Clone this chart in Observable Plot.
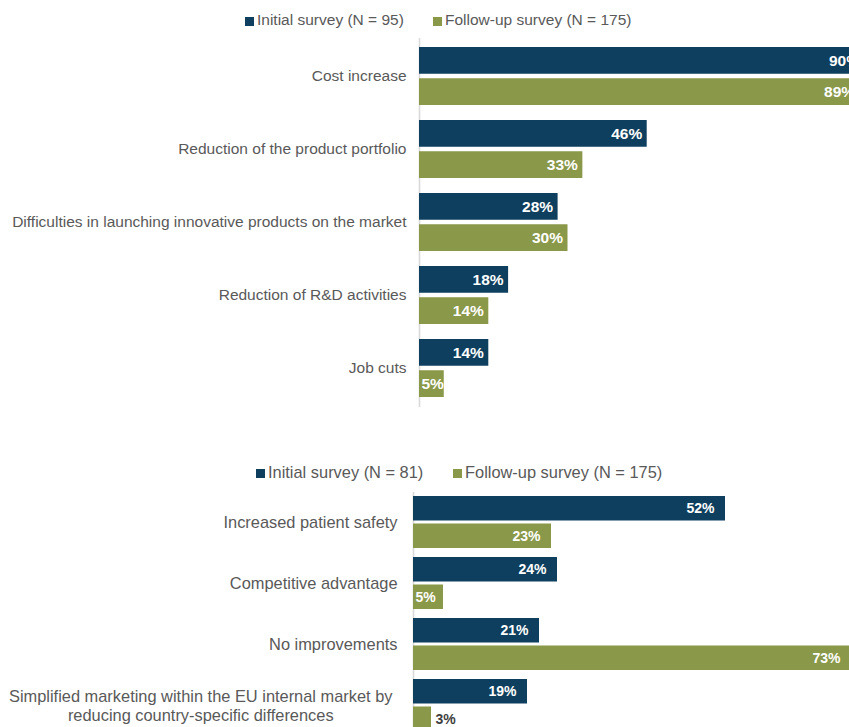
<!DOCTYPE html>
<html><head><meta charset="utf-8">
<script src="https://cdn.jsdelivr.net/npm/d3@7"></script>
<script src="https://cdn.jsdelivr.net/npm/@observablehq/plot@0.6"></script>
<style>
html,body{margin:0;padding:0;background:#fff;overflow:hidden;width:849px;height:727px;}
#root{position:relative;width:849px;height:727px;overflow:hidden;font-family:"Liberation Sans",Arial,sans-serif;}
.item{position:absolute;display:flex;align-items:center;color:#595959;white-space:nowrap;height:22px;}
.sw{display:inline-block;width:9px;height:9px;margin-right:3px;position:relative;top:1px;}
.panel{position:absolute;left:0;}
.panel svg{overflow:hidden;}
</style></head><body><div id="root"></div>
<script>
// ---- data ----
const impactCategories = ["Cost increase","Reduction of the product portfolio","Difficulties in launching innovative products on the market","Reduction of R&D activities","Job cuts"];
const impactInitial = [90, 46, 28, 18, 14];
const impactFollowup = [89, 33, 30, 14, 5];
const impactSeries = ["Initial survey (N = 95)", "Follow-up survey (N = 175)"];

const benefitCategories = ["Increased patient safety","Competitive advantage","No improvements","Simplified marketing within the EU internal market by\nreducing country-specific differences"];
const benefitInitial = [52, 24, 21, 19];
const benefitFollowup = [23, 5, 73, 3];
const benefitSeries = ["Initial survey (N = 81)", "Follow-up survey (N = 175)"];

const seriesColors = ["#0f3f5e", "#8a9849"];
const FONT = '"Liberation Sans", Arial, sans-serif';

const root = document.getElementById("root");

function legend(series, lefts, centerY, fontSize) {
  series.forEach((s, i) => {
    const d = document.createElement("div");
    d.className = "item";
    d.style.left = lefts[i] + "px";
    d.style.top = (centerY - 11) + "px";
    d.style.fontSize = fontSize + "px";
    d.innerHTML = `<span class="sw" style="background:${seriesColors[i]}"></span><span></span>`;
    d.lastChild.textContent = s;
    root.appendChild(d);
  });
}

function measure(text, size) {
  const c = document.createElement("canvas").getContext("2d");
  c.font = `${size}px ${FONT}`;
  return c.measureText(text).width;
}

function panel(o) {
  const rows = o.cats.map((c, i) => ({c, a: o.init[i], b: o.follow[i]}));
  const n = rows.length;
  const bw = o.step * (1 - o.pad);
  const inset = bw / 2 + o.gap / 2;
  const dyLab = (bw / 2 + o.gap / 2) / 2;
  const zero = () => 0;
  const marks = [Plot.ruleX([0], {stroke: "#d9d9d9", strokeWidth: 1.6})];
  const series = [["a", {insetBottom: inset}, -dyLab], ["b", {insetTop: inset}, dyLab]];
  series.forEach(([k, ins, dy], i) => {
    marks.push(Plot.barX(rows, {x1: zero, x2: k, y: "c", fill: seriesColors[i], ...ins}));
  });
  series.forEach(([k, ins, dy], i) => {
    const lab = d => d[k] + "%";
    marks.push(Plot.text(rows.filter(d => d[k] >= 10), {x: k, y: "c", text: lab, textAnchor: "end", dx: -o.labelPad, dy, fill: "white", fontWeight: "bold", fontSize: o.labelSize}));
    marks.push(Plot.text(rows.filter(d => d[k] >= 5 && d[k] < 10), {x: zero, y: "c", text: lab, textAnchor: "start", dx: 2, dy, fill: "white", fontWeight: "bold", fontSize: o.labelSize}));
    marks.push(Plot.text(rows.filter(d => d[k] < 5), {x: k, y: "c", text: lab, textAnchor: "start", dx: 4, dy, fill: "#404040", fontWeight: "bold", fontSize: o.labelSize}));
  });
  marks.push(Plot.text(rows.filter(d => !d.c.includes("\n")), {x: zero, y: "c", text: "c", textAnchor: "end", dx: -o.catPad, fill: "#595959", fontSize: o.catSize}));
  rows.filter(d => d.c.includes("\n")).forEach(d => {
    const w = Math.max(...d.c.split("\n").map(l => measure(l, o.catSize)));
    marks.push(Plot.text([d], {x: zero, y: "c", text: "c", textAnchor: "middle", lineHeight: 1.16, dx: -(o.catPad + 5 + w / 2), fill: "#595959", fontSize: o.catSize}));
  });
  const svg = Plot.plot({
    width: 849,
    height: Math.ceil(n * o.step),
    margin: 0,
    style: {fontFamily: FONT, background: "transparent", overflow: "hidden"},
    x: {domain: [0, 100], range: [o.left, o.left + 100 * o.ppp], axis: null},
    y: {domain: o.cats, range: [0, n * o.step], paddingInner: o.pad, paddingOuter: o.pad / 2, axis: null},
    marks
  });
  const wrap = document.createElement("div");
  wrap.className = "panel";
  wrap.style.top = o.top + "px";
  wrap.appendChild(svg);
  root.appendChild(wrap);
}

legend(impactSeries, [245, 433], 20, 15.5);
panel({cats: impactCategories, init: impactInitial, follow: impactFollowup,
  top: 37.6, left: 419, ppp: 4.95, step: 73.75, pad: 0.2, gap: 3.5,
  labelSize: 15.5, labelPad: 5, catPad: 13, catSize: 15.5});

legend(benefitSeries, [256, 453], 472.5, 16.4);
panel({cats: benefitCategories, init: benefitInitial, follow: benefitFollowup,
  top: 492, left: 413, ppp: 6.0, step: 61, pad: 0.1475, gap: 3,
  labelSize: 14, labelPad: 11, catPad: 16, catSize: 16.4});
</script></body></html>
